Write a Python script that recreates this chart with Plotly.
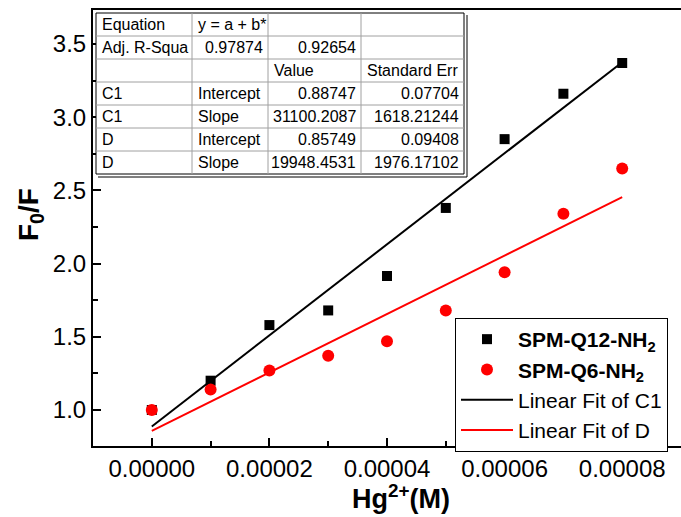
import plotly.graph_objects as go
import numpy as np

# ---- data ----
hg_conc = [0.0, 1e-5, 2e-5, 3e-5, 4e-5, 5e-5, 6e-5, 7e-5, 8e-5]
q12_vals = [1.00, 1.20, 1.58, 1.68, 1.915, 2.38, 2.85, 3.16, 3.37]
q6_vals = [1.00, 1.14, 1.27, 1.37, 1.47, 1.68, 1.94, 2.34, 2.65]

fit_c1 = {"intercept": 0.88747, "slope": 31100.2087}
fit_d = {"intercept": 0.85749, "slope": 19948.4531}

table_rows = [
    ["Equation", "y = a + b*", "", ""],
    ["Adj. R-Squa", "0.97874", "0.92654", ""],
    ["", "", "Value", "Standard Err"],
    ["C1", "Intercept", "0.88747", "0.07704"],
    ["C1", "Slope", "31100.2087", "1618.21244"],
    ["D", "Intercept", "0.85749", "0.09408"],
    ["D", "Slope", "19948.4531", "1976.17102"],
]
right_aligned = {(1, 1), (1, 2), (3, 2), (3, 3), (4, 2), (4, 3), (5, 2), (5, 3), (6, 2), (6, 3)}

FONT = "Arial, Liberation Sans, sans-serif"

# plot area in pixels
L, T, R, B = 93, 10, 681, 446
W, H = 681, 517


def px(xp):
    return (xp - L) / (R - L)


def py(yp):
    return (B - yp) / (B - T)


x_fit = np.array([hg_conc[0], hg_conc[-1]])

fig = go.Figure()
fig.add_trace(go.Scatter(
    x=hg_conc, y=q12_vals, mode="markers",
    marker=dict(symbol="square", size=10, color="black"),
    name="<b>SPM-Q12-NH<sub>2</sub></b>"))
fig.add_trace(go.Scatter(
    x=hg_conc, y=q6_vals, mode="markers",
    marker=dict(symbol="circle", size=12, color="red"),
    name="<b>SPM-Q6-NH<sub>2</sub></b>"))
fig.add_trace(go.Scatter(
    x=x_fit, y=fit_c1["intercept"] + fit_c1["slope"] * x_fit, mode="lines",
    line=dict(color="black", width=2), name="Linear Fit of C1"))
fig.add_trace(go.Scatter(
    x=x_fit, y=fit_d["intercept"] + fit_d["slope"] * x_fit, mode="lines",
    line=dict(color="red", width=2), name="Linear Fit of D"))

# ---- table drawn with shapes & annotations ----
col_edges = [96, 192, 268, 361, 464]
row_top, row_h = 13, 23
nrows = len(table_rows)
row_edges = [row_top + i * row_h for i in range(nrows + 1)]
shapes = []
shapes.append(dict(type="rect", xref="paper", yref="paper",
                   x0=px(col_edges[0]), x1=px(col_edges[-1]),
                   y0=py(row_edges[-1]), y1=py(row_edges[0]),
                   fillcolor="white", line=dict(color="black", width=1), layer="above"))
# double border right/bottom
shapes.append(dict(type="line", xref="paper", yref="paper",
                   x0=px(col_edges[-1] + 3), x1=px(col_edges[-1] + 3),
                   y0=py(row_edges[-1] + 3), y1=py(row_edges[0] + 2),
                   line=dict(color="black", width=1), layer="above"))
shapes.append(dict(type="line", xref="paper", yref="paper",
                   x0=px(col_edges[0] + 2), x1=px(col_edges[-1] + 3),
                   y0=py(row_edges[-1] + 3), y1=py(row_edges[-1] + 3),
                   line=dict(color="black", width=1), layer="above"))
for xe in col_edges[1:-1]:
    shapes.append(dict(type="line", xref="paper", yref="paper",
                       x0=px(xe), x1=px(xe), y0=py(row_edges[-1]), y1=py(row_edges[0]),
                       line=dict(color="#a0a0a0", width=1), layer="above"))
for ye in row_edges[1:-1]:
    shapes.append(dict(type="line", xref="paper", yref="paper",
                       x0=px(col_edges[0]), x1=px(col_edges[-1]), y0=py(ye), y1=py(ye),
                       line=dict(color="#a0a0a0", width=1), layer="above"))

annotations = []
for r, row in enumerate(table_rows):
    yc = row_top + r * row_h + row_h / 2
    for c, txt in enumerate(row):
        if not txt:
            continue
        if (r, c) in right_aligned:
            xx, anchor = px(col_edges[c + 1] - 3), "right"
        else:
            xx, anchor = px(col_edges[c] + 4), "left"
        annotations.append(dict(text=txt, xref="paper", yref="paper", x=xx, y=py(yc),
                                xanchor=anchor, yanchor="middle", showarrow=False,
                                font=dict(family=FONT, size=16, color="black")))

# axis titles as annotations for precise placement
annotations.append(dict(text="<b>Hg<sup>2+</sup>(M)</b>", xref="paper", yref="paper",
                        x=px(401), y=py(497), xanchor="center", yanchor="middle",
                        showarrow=False, font=dict(family=FONT, size=27, color="black")))
annotations.append(dict(text="<b>F<sub>0</sub>/F</b>", xref="paper", yref="paper",
                        x=px(30), y=py(215), xanchor="center", yanchor="middle",
                        textangle=-90, showarrow=False,
                        font=dict(family=FONT, size=28, color="black")))

fig.update_layout(
    width=W, height=H,
    margin=dict(l=L, r=W - R, t=T, b=H - B),
    plot_bgcolor="white", paper_bgcolor="white",
    font=dict(family=FONT, color="black"),
    shapes=shapes, annotations=annotations,
    legend=dict(x=px(455), y=py(318), xanchor="left", yanchor="top",
                bordercolor="black", borderwidth=1, bgcolor="white",
                font=dict(family=FONT, size=21, color="black"),
                tracegroupgap=0, itemwidth=52),
    xaxis=dict(range=[-1e-5, 9e-5], tick0=0, dtick=2e-5, tickformat=".5f",
               ticks="inside", ticklen=8, tickwidth=1.5, tickcolor="black",
               showline=True, linecolor="black", linewidth=2, mirror=True,
               showgrid=False, zeroline=False,
               tickfont=dict(family=FONT, size=24),
               minor=dict(dtick=1e-5, ticks="inside", ticklen=5, tickcolor="black", showgrid=False)),
    yaxis=dict(range=[0.754, 3.732], tick0=0, dtick=0.5, tickformat=".1f",
               ticks="inside", ticklen=8, tickwidth=1.5, tickcolor="black",
               showline=True, linecolor="black", linewidth=2,
               showgrid=False, zeroline=False,
               tickfont=dict(family=FONT, size=24),
               minor=dict(dtick=0.25, ticks="inside", ticklen=5, tickcolor="black", showgrid=False)),
)

fig.write_html("out.html")
